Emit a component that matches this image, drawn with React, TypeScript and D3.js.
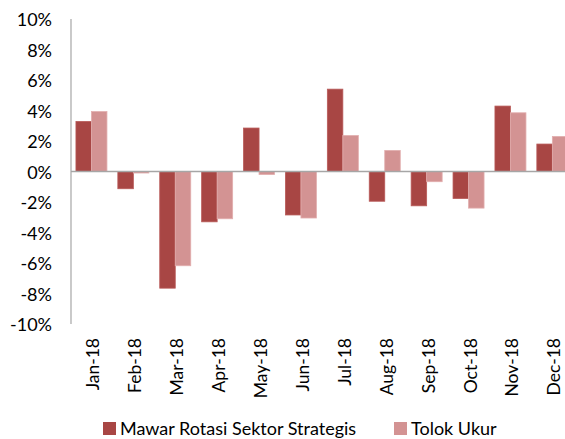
import React from "react";
import * as d3 from "d3";

const months = ["Jan-18","Feb-18","Mar-18","Apr-18","May-18","Jun-18","Jul-18","Aug-18","Sep-18","Oct-18","Nov-18","Dec-18"];
const seriesNames = ["Mawar Rotasi Sektor Strategis", "Tolok Ukur"];
const mawar = [3.28, -1.13, -7.65, -3.3, 2.85, -2.85, 5.4, -1.95, -2.25, -1.77, 4.29, 1.8];
const tolok = [3.93, -0.1, -6.18, -3.1, -0.2, -3.05, 2.36, 1.38, -0.67, -2.4, 3.85, 2.3];
const yTicks = [-10, -8, -6, -4, -2, 0, 2, 4, 6, 8, 10];
const colors = ["#A84644", "#D39393"];
const strokes = ["#B85A58", "#E2AEAE"];

export default function App() {
  const W = 565, H = 439;
  const font = "Lato, 'Liberation Sans', sans-serif";
  const x = d3.scaleBand<string>().domain(months).range([70.5, 573.3]).paddingInner(0).paddingOuter(0);
  const groupW = x.step() * 0.74;
  const xs = d3.scaleBand<string>().domain(seriesNames).range([0, groupW]);
  const y = d3.scaleLinear().domain([-10, 10]).range([324, 19]);
  const data = [mawar, tolok];
  return (
    <svg width={W} height={H} style={{ position: "absolute", left: 0, top: 0, background: "#fff" }}>
      {data.map((vals, si) =>
        vals.map((v, i) => {
          const gx = (x(months[i]) as number) + (x.step() - groupW) / 2 + (xs(seriesNames[si]) as number);
          const y0 = y(0), y1 = y(v);
          return (
            <rect key={si + "-" + i} x={gx} y={Math.min(y0, y1)} width={xs.bandwidth()} height={Math.abs(y1 - y0)}
              fill={colors[si]} stroke={strokes[si]} strokeWidth={0.8} />
          );
        })
      )}
      <line x1={71} x2={W} y1={y(0)} y2={y(0)} stroke="#A6A6A6" strokeWidth={1.5} />
      <line x1={71} x2={71} y1={y(10)} y2={y(-10)} stroke="#A6A6A6" strokeWidth={1.2} />
      {yTicks.map((t) => (
        <text key={t} x={52} y={y(t)} textAnchor="end" dominantBaseline="central" fontFamily={font} fontSize={18} fill="#000">
          {t + "%"}
        </text>
      ))}
      {months.map((m) => {
        const cx = (x(m) as number) + x.bandwidth() / 2 + 1.5;
        return (
          <text key={m} transform={`translate(${cx},338) rotate(-90)`} textAnchor="end" dominantBaseline="central"
            fontFamily={font} fontSize={17.5} fill="#000">{m}</text>
        );
      })}
      {seriesNames.map((s, i) => {
        const lx = i === 0 ? 103 : 394;
        return (
          <g key={s}>
            <rect x={lx} y={422} width={13} height={13} fill={colors[i]} />
            <text x={lx + 17} y={427.5} dominantBaseline="central" fontFamily={font} fontSize={18} fill="#000">{s}</text>
          </g>
        );
      })}
    </svg>
  );
}
